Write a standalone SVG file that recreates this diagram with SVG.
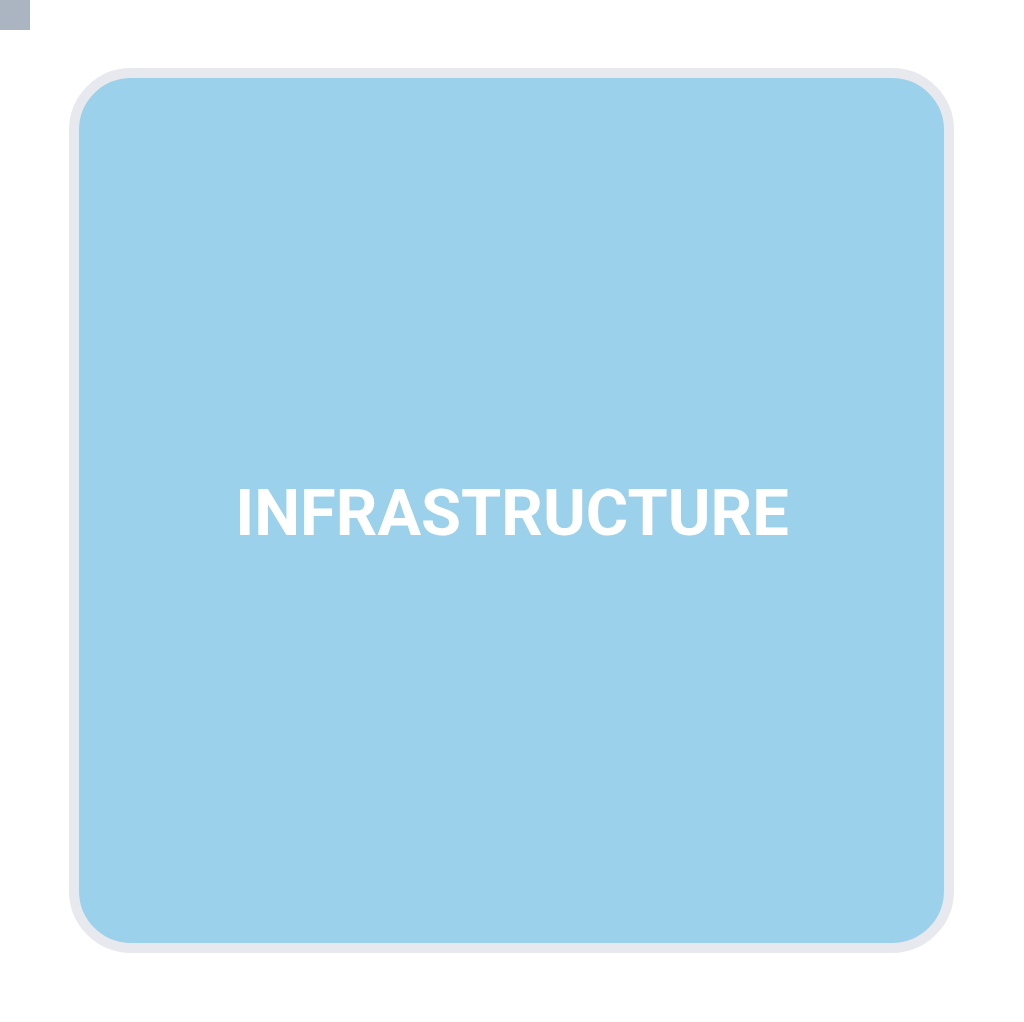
<svg xmlns="http://www.w3.org/2000/svg" width="1024" height="1022" viewBox="0 0 1024 1022">
<style>
.lbl{font-family:Roboto,"Liberation Sans",sans-serif;font-weight:700;fill:#ffffff;text-anchor:middle}
</style>
<rect width="1024" height="1022" fill="#ffffff"/>
<g id="corner-marker"><rect x="0" y="0" width="30" height="30" fill="#aab5c1"/></g>
<g id="infrastructure">
<rect x="74" y="73" width="875" height="875" rx="57" ry="57" fill="#9bd1eb" stroke="#e8e9ee" stroke-width="10"/>
<text class="lbl" x="512" y="535" font-size="65">INFRASTRUCTURE</text>
</g>
<g id="connectors"></g>
</svg>
